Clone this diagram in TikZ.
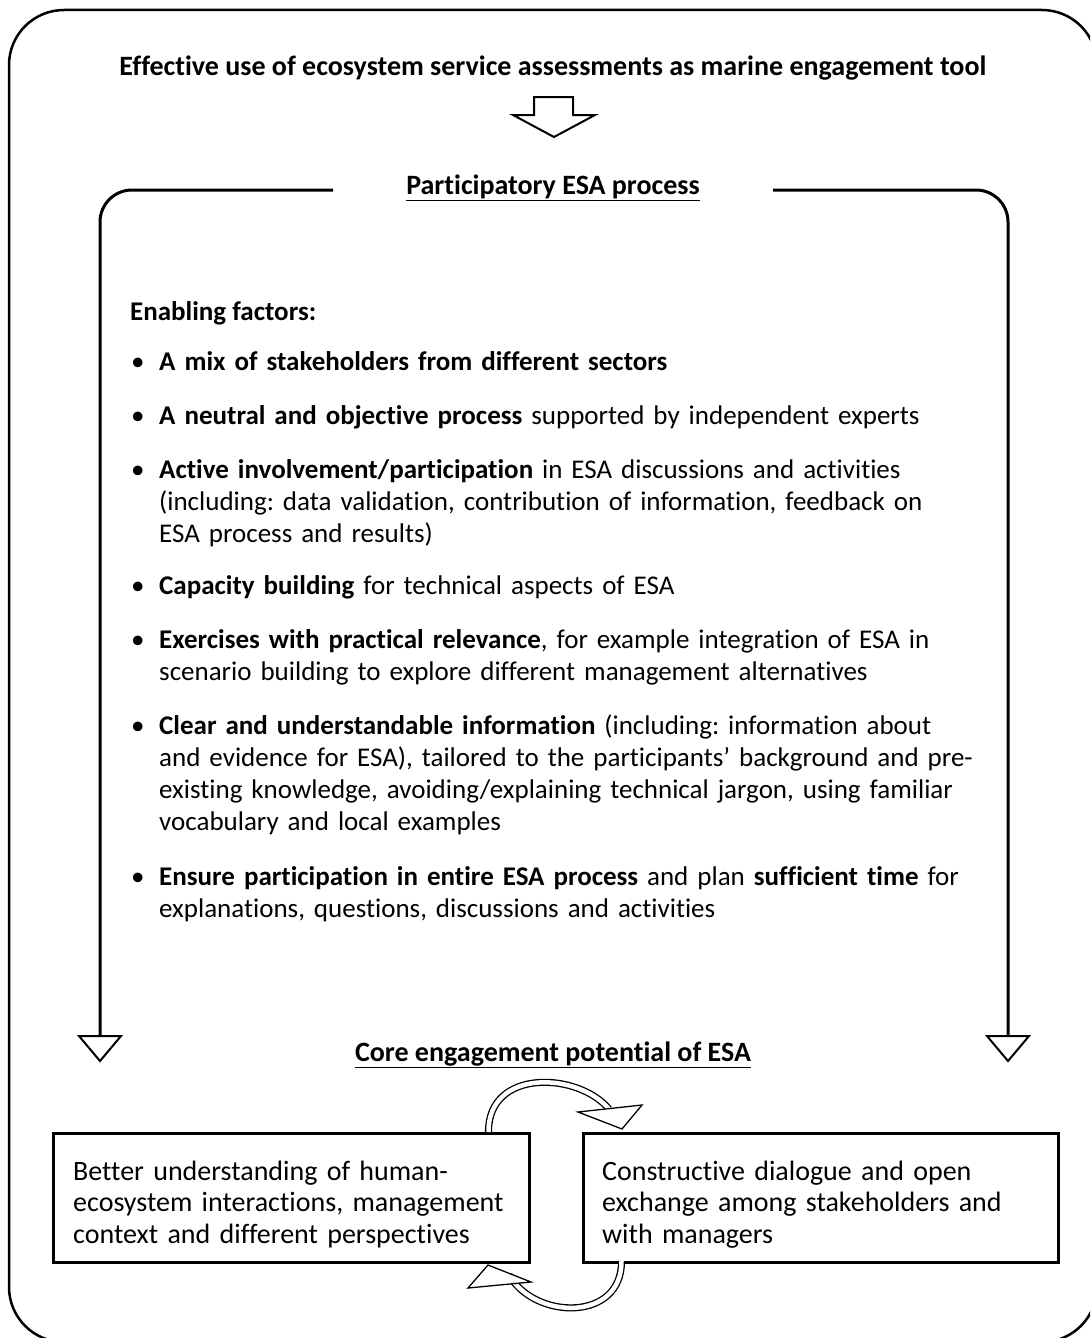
\documentclass[tikz,border=0pt]{standalone}
\usepackage{fontspec}
\setmainfont{Carlito}[Ligatures={NoCommon}]
\newcommand{\bl}{\makebox[29pt][l]{\hspace{1pt}\textbullet}}
\newcommand{\ind}{\hspace*{29pt}}
\frenchspacing
\begin{document}
\frenchspacing
\begin{tikzpicture}[x=1pt,y=-1pt,
  txt/.style={font=\fontsize{27}{32}\selectfont, inner sep=0pt},
  bitem/.style={txt, anchor=base west, text width=950pt, align=left},
  head/.style={txt, font=\fontsize{28}{32}\selectfont\bfseries, anchor=base},
  frame/.style={line width=2.5pt, rounded corners=55pt},
  brk/.style={line width=3pt, rounded corners=32pt},
  tri/.style={line width=2pt, fill=white, line join=miter},
  boxframe/.style={draw, line width=2.5pt, anchor=north west, inner sep=0pt, minimum height=129pt},
  boxtxt/.style={txt, font=\fontsize{28}{31.5}\selectfont, anchor=base west, align=left, text width=440pt},
  loop/.style={line width=1.3pt, double=white, double distance=4.5pt},
  loophead/.style={line width=1.3pt, fill=white, line join=miter}
]
\useasboundingbox (0,0) rectangle (1090,1338);
\begin{scope}
\clip (0,0) rectangle (1090,1338);
\draw[frame] (9,10) rectangle (1097,1342);
\end{scope}

% title and block arrow
\node[head] (title) at (553,75) {Effective use of ecosystem service assessments as marine engagement tool};
\draw[tri] (534,97) -- (573,97) -- (573,115) -- (595,115) -- (554,137) -- (513,115) -- (534,115) -- cycle;

% participatory bracket
\node[head] (part) at (553,194) {\underline{Participatory ESA process}};
\coordinate (lt) at (333,190);
\coordinate (rt) at (773,190);
\coordinate (le) at (100,1036);
\coordinate (re) at (1008,1036);
\draw[brk] (lt) -- (100,190) -- (le);
\draw[brk] (rt) -- (1008,190) -- (re);
\draw[tri] (le) ++(-21,0) -- ++(42,0) -- ++(-21,25) -- cycle;
\draw[tri] (re) ++(-21,0) -- ++(42,0) -- ++(-21,25) -- cycle;

% enabling factors
\node[txt, font=\fontsize{27}{32}\selectfont\bfseries, anchor=base west] (ef) at (130,320) {Enabling factors:};
\node[bitem] (b1) at (130,370) {\bl\textbf{A mix of stakeholders from different sectors}};
\node[bitem] (b2) at (130,424) {\bl\textbf{A neutral and objective process} supported by independent experts};
\node[bitem] (b3) at (130,478) {\bl\textbf{Active involvement/participation} in ESA discussions and activities\\
\ind(including: data validation, contribution of information, feedback on\\
\ind ESA process and results)};
\node[bitem] (b4) at (130,594) {\bl\textbf{Capacity building} for technical aspects of ESA};
\node[bitem] (b5) at (130,648) {\bl\textbf{Exercises with practical relevance}, for example integration of ESA in\\
\ind scenario building to explore different management alternatives};
\node[bitem] (b6) at (130,734) {\bl\textbf{Clear and understandable information} (including: information about\\
\ind and evidence for ESA), tailored to the participants’ background and pre-\\
\ind existing knowledge, avoiding/explaining technical jargon, using familiar\\
\ind vocabulary and local examples};
\node[bitem] (b7) at (130,885) {\bl\textbf{Ensure participation in entire ESA process} and plan \textbf{sufficient time} for\\
\ind explanations, questions, discussions and activities};

% core engagement
\node[head] (core) at (553,1061) {\underline{Core engagement potential of ESA}};
\node[boxframe, minimum width=476pt] (lb) at (52,1132) {};
\node[boxtxt] (lbt) at (73,1180)
  {Better understanding of human-\\ecosystem interactions, management\\context and different perspectives};
\node[boxframe, minimum width=475pt] (rb) at (582,1132) {};
\node[boxtxt] (rbt) at (602,1180)
  {Constructive dialogue and open\\exchange among stakeholders and\\with managers};

% loop arrows
\coordinate (ua) at (488.5,1132);
\coordinate (ub) at (609,1109);
\draw[loop] (ua) .. controls (488,1068) and (578,1072) .. (ub);
\draw[loophead] (578,1112) -- (642,1105) -- (622,1129) -- cycle;
\coordinate (da) at (621.5,1261);
\coordinate (db) at (509,1275);
\draw[loop] (da) .. controls (622,1322) and (535,1320) .. (db);
\draw[loophead] (468,1288) -- (488,1265) -- (531,1282) -- cycle;
\end{tikzpicture}
\end{document}
